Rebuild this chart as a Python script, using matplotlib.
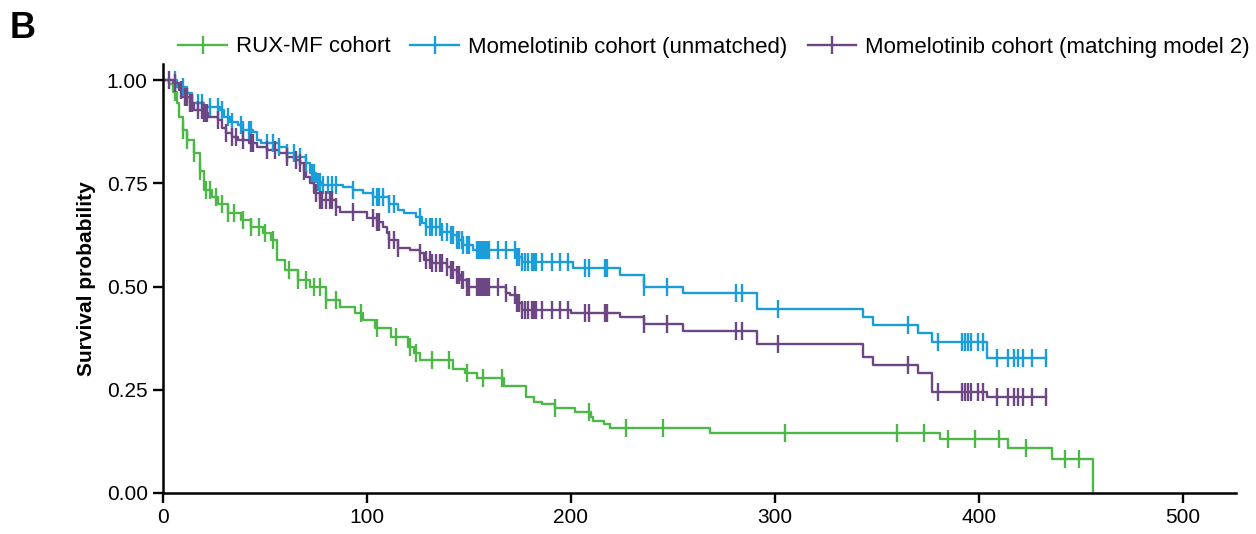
import numpy as np
import matplotlib
matplotlib.use("Agg")
import matplotlib.pyplot as plt
from matplotlib.lines import Line2D

plt.rcParams['font.family'] = ['Liberation Sans', 'DejaVu Sans']

# RUX-MF cohort: step times (days) and survival after each step
rux_t = [0, 3, 5, 7, 8, 10, 12, 15, 18, 20, 24, 27, 32, 38, 43, 49, 53, 56, 60, 66, 72,
         80, 87, 94, 98, 104, 112, 120, 123, 126, 142, 148, 154, 167, 178, 182, 186, 192,
         202, 210, 211, 216, 219, 268, 381, 414, 436, 456]
rux_s = [1.0, 0.99, 0.97, 0.945, 0.91, 0.88, 0.855, 0.823, 0.78, 0.733, 0.717, 0.70, 0.678,
         0.66, 0.645, 0.63, 0.613, 0.564, 0.54, 0.516, 0.50, 0.467, 0.45, 0.435, 0.42, 0.40,
         0.378, 0.354, 0.339, 0.322, 0.30, 0.29, 0.278, 0.26, 0.232, 0.22, 0.215, 0.205,
         0.196, 0.184, 0.174, 0.167, 0.157, 0.145, 0.13, 0.108, 0.082, 0.0]
rux_cens = [6, 10, 12, 15, 18, 21, 23, 26, 29, 32, 35, 39, 43, 47, 50, 54, 62, 66, 70, 74, 77,
            80, 85, 97, 105, 114, 121, 124, 132, 140, 149, 157, 166, 192, 209, 227, 245, 305,
            360, 373, 385, 398, 410, 423, 442, 449]

# Momelotinib cohort (unmatched)
mmb_t = [0, 7, 12, 14, 20, 28, 30, 33, 37, 39, 44, 46, 48, 57, 61, 65, 70, 72, 75, 78, 88,
         93, 98, 103, 111, 115, 118, 124, 127, 129, 137, 141, 144, 147, 152, 173, 176, 201,
         224, 236, 255, 291, 343, 348, 370, 377, 404, 433]
mmb_s = [1.0, 0.983, 0.968, 0.945, 0.935, 0.927, 0.91, 0.898, 0.89, 0.88, 0.874, 0.855, 0.847,
         0.838, 0.823, 0.814, 0.80, 0.775, 0.753, 0.746, 0.741, 0.733, 0.726, 0.717, 0.70,
         0.685, 0.678, 0.668, 0.654, 0.644, 0.632, 0.625, 0.613, 0.60, 0.588, 0.571, 0.56,
         0.545, 0.528, 0.50, 0.484, 0.445, 0.426, 0.407, 0.387, 0.366, 0.327, 0.327]
mmb_cens = [6, 10, 14, 17, 19, 23, 27, 29, 32, 34, 38, 39, 42, 43, 51, 54, 57, 61, 64, 67, 70,
            73, 74, 76, 77, 78.5, 81, 83, 85, 93, 103, 105, 106, 108, 111, 113, 126, 129, 131,
            132, 134, 136, 137, 139, 141, 142, 144, 145, 146.5, 147, 149, 150, 154, 155, 156,
            157, 158, 159, 160, 164, 168, 172.5, 173.5, 174.5, 176, 177.5, 179, 181, 182, 183,
            186, 190.5, 194.6, 198.7, 207, 209, 216.7, 217.5, 236, 247, 281, 284, 301.5, 365,
            380, 391.5, 393, 394.5, 396, 399.5, 402, 409, 414, 417, 419, 421.6, 426, 433]

# Momelotinib cohort (matching model 2)
mm2_t = [0, 5, 8, 10, 13, 15, 20, 22, 27, 29, 31, 34, 37, 42, 46, 51, 57, 61, 64, 67, 69, 70,
         72, 74, 77, 85, 87, 100, 105, 108, 110, 111, 115, 121, 126, 128, 132, 139, 141, 144,
         146, 149, 168, 170, 173, 176, 200, 224, 236, 255, 291, 343, 348, 370, 377, 404, 433]
mm2_s = [1.0, 0.993, 0.976, 0.96, 0.944, 0.927, 0.92, 0.91, 0.903, 0.884, 0.872, 0.862, 0.855,
         0.847, 0.838, 0.83, 0.823, 0.814, 0.806, 0.80, 0.78, 0.765, 0.75, 0.726, 0.709, 0.692,
         0.68, 0.666, 0.656, 0.644, 0.63, 0.613, 0.593, 0.588, 0.58, 0.564, 0.557, 0.547, 0.54,
         0.528, 0.516, 0.50, 0.484, 0.479, 0.46, 0.443, 0.435, 0.426, 0.41, 0.392, 0.36, 0.329,
         0.31, 0.29, 0.245, 0.232, 0.232]
mm2_cens = [3, 6, 9, 11, 12, 13, 14, 17, 19, 20, 21, 21.5, 27, 31, 34, 36, 39, 43, 44, 51, 55,
            61, 65, 67, 69, 75, 77, 78, 80, 82, 83, 85, 93, 103, 105, 106, 111, 113, 115, 126,
            129, 131, 132, 134, 136, 137, 139, 141, 142, 144, 145, 146.5, 147, 149, 150, 154,
            155, 156, 157, 158, 159, 160, 164, 168, 172.5, 173.5, 174.5, 176, 177.5, 179, 181,
            182, 183, 186, 190.5, 194.6, 198.7, 207, 209, 216.7, 217.5, 236, 247, 281, 284,
            301.5, 365, 380, 391.5, 393, 394.5, 396, 399.5, 402, 409, 414, 417, 419, 421.6, 426,
            433]

labels = ["RUX-MF cohort", "Momelotinib cohort (unmatched)",
          "Momelotinib cohort (matching model 2)"]
colors = ["#4DB748", "#1B9DDA", "#6C4784"]


def survAt(times, surv, pts):
    times = np.asarray(times, dtype=float)
    surv = np.asarray(surv, dtype=float)
    idx = np.searchsorted(times, pts, side='right') - 1
    return surv[idx]


fig = plt.figure(figsize=(12.56, 5.34), dpi=100)
ax = fig.add_axes([163/1256, 1-493/534, (1236-163)/1256, (493-63.5)/534])

series = [(rux_t, rux_s, rux_cens), (mmb_t, mmb_s, mmb_cens), (mm2_t, mm2_s, mm2_cens)]
for (t, s, c), col in zip(series, colors):
    ax.step(t, s, where='post', color=col, linewidth=1.7, zorder=2)
    c = np.asarray(c, dtype=float)
    ax.plot(c, survAt(t, s, c), linestyle='none', marker='|', markersize=13,
            markeredgewidth=1.7, color=col, zorder=3)

ax.set_xlim(0, 526)
ax.set_ylim(0, 1.04)
ax.set_xticks([0, 100, 200, 300, 400, 500])
ax.set_yticks([0, 0.25, 0.5, 0.75, 1.0])
ax.set_yticklabels(["0.00", "0.25", "0.50", "0.75", "1.00"])
ax.tick_params(labelsize=15, width=1.7, length=7, color='black', pad=4)
for side in ['top', 'right']:
    ax.spines[side].set_visible(False)
for side in ['left', 'bottom']:
    ax.spines[side].set_linewidth(1.8)
ax.set_ylabel("Survival probability", fontsize=15, fontweight='bold', labelpad=8)

handles = [Line2D([0], [0], color=col, linewidth=1.7, marker='|', markersize=13,
                  markeredgewidth=1.7) for col in colors]
fig.legend(handles, labels, loc='center', bbox_to_anchor=(714/1256, 1-47/534), ncol=3,
           frameon=False, fontsize=16, handlelength=2.2, handletextpad=0.4,
           columnspacing=0.9, numpoints=1)

fig.text(10/1256, 1-38/534, "B", fontsize=26, fontweight='bold', ha='left', va='baseline')

fig.savefig("out.png", dpi=100)
